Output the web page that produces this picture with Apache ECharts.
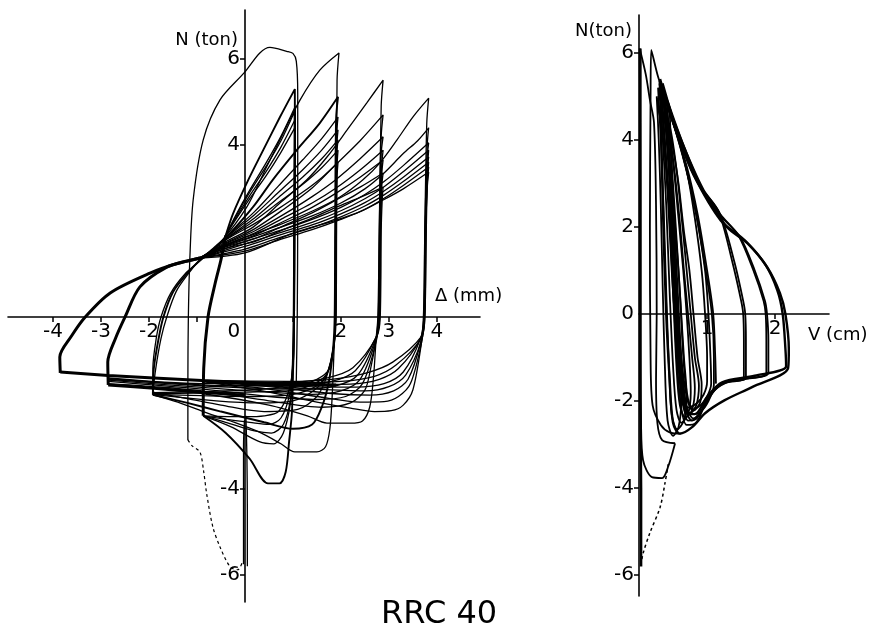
<!DOCTYPE html>
<html>
<head>
<meta charset="utf-8">
<script src="https://cdn.jsdelivr.net/npm/echarts@6/dist/echarts.min.js"></script>
<style>
  html, body { margin: 0; padding: 0; background: #fff; }
  #main { width: 877px; height: 627px; }
</style>
</head>
<body>
<div id="main"></div>
<script>
// ---- left plot: displacement (mm) vs N (ton), points are [delta, N]
var riseG4 = [[-3.85,-1.3],[-3.86,-0.93],[-3.62,-0.45],[-3.33,0],[-2.81,0.56],[-1.98,1.02],[-1.4,1.25],[-0.94,1.37],[-0.6,1.5]];
var riseG3 = [[-2.85,-1.58],[-2.86,-1.05],[-2.7,-0.5],[-2.5,0],[-2.19,0.7],[-1.63,1.16],[-1.2,1.3],[-0.94,1.37]];
var riseG1 = [[-0.87,-2.3],[-0.86,-1.2],[-0.77,0],[-0.62,0.79],[-0.5,1.33],[-0.4,1.9]];
var bandG4 = [[-3.85,-1.28],[-2.85,-1.36],[-1.9,-1.42],[-0.9,-1.48],[0,-1.52],[0.9,-1.56],[1.9,-1.58]];
var bandG3 = [[-2.85,-1.58],[-1.9,-1.66],[-0.9,-1.75],[0,-1.82]];

var g4a = [[-0.94,1.37],[-0.5,1.62],[0,1.85],[0.73,2.15],[1.42,2.47],[1.98,2.79],[2.46,3.19],[2.81,3.58],[3.17,4.12],[3.5,4.65],[3.83,5.09],[3.79,4.5],[3.75,2.0],[3.73,0],[3.68,-0.6],[3.5,-1.7],[3.3,-2.05],[3.05,-2.18],[2.7,-2.2],[2.2,-2.12],[1.5,-1.98],[0.5,-1.75],[-0.9,-1.5]];
var g4b = [[-0.94,1.37],[-0.5,1.6],[0,1.8],[0.7,2.07],[1.4,2.35],[2.0,2.65],[2.5,2.98],[2.9,3.35],[3.3,3.8],[3.6,4.1],[3.83,4.4],[3.8,4.0],[3.76,2.0],[3.74,0],[3.68,-0.6],[3.45,-1.55],[3.2,-1.85],[2.9,-1.97],[2.4,-1.98],[1.5,-1.85],[0.5,-1.68],[-0.9,-1.5]];
var g4c = [[-0.94,1.37],[0,1.75],[0.7,2.0],[1.4,2.27],[2.0,2.55],[2.5,2.85],[2.9,3.15],[3.3,3.52],[3.83,4.05],[3.79,3.6],[3.75,2.0],[3.72,0],[3.66,-0.6],[3.4,-1.45],[3.1,-1.72],[2.6,-1.82],[1.8,-1.78],[0.5,-1.62],[-0.9,-1.49]];
var g4d = [[-0.94,1.37],[0,1.7],[0.7,1.95],[1.4,2.2],[2.0,2.47],[2.5,2.75],[2.9,3.03],[3.3,3.38],[3.83,3.88],[3.8,3.4],[3.77,2.0],[3.75,0],[3.68,-0.55],[3.35,-1.35],[3.0,-1.62],[2.5,-1.72],[1.5,-1.68],[0.5,-1.6],[-0.9,-1.49]];
var g4e = [[-0.94,1.37],[0,1.64],[0.7,1.9],[1.4,2.14],[2.0,2.4],[2.5,2.66],[2.9,2.93],[3.3,3.25],[3.83,3.72],[3.79,3.3],[3.76,2.0],[3.73,0],[3.66,-0.5],[3.3,-1.28],[2.9,-1.55],[2.3,-1.63],[1.3,-1.62],[0.3,-1.56],[-0.9,-1.48]];
var g4f = [[-0.94,1.37],[0,1.58],[0.7,1.84],[1.4,2.08],[2.0,2.33],[2.5,2.58],[2.9,2.84],[3.3,3.15],[3.83,3.6],[3.8,3.2],[3.77,2.0],[3.74,0],[3.66,-0.5],[3.2,-1.2],[2.8,-1.45],[2.2,-1.56],[1.2,-1.57],[0.2,-1.54],[-0.9,-1.48]];
var g4g = [[-0.94,1.37],[0,1.53],[0.7,1.79],[1.4,2.03],[2.0,2.27],[2.5,2.5],[2.9,2.76],[3.3,3.06],[3.83,3.49],[3.8,3.1],[3.77,2.0],[3.74,0],[3.67,-0.5],[3.15,-1.12],[2.7,-1.38],[2.0,-1.5],[1.0,-1.53],[-0.9,-1.48]];
var g4h = [[-0.94,1.37],[0,1.49],[1.0,1.95],[1.92,2.26],[2.4,2.45],[2.88,2.72],[3.3,2.98],[3.83,3.37],[3.8,3.0],[3.78,2.0],[3.75,0],[3.68,-0.45],[3.08,-1.05],[2.54,-1.3],[1.8,-1.45],[0.9,-1.5],[-0.9,-1.48]];

var g3a = [[-0.94,1.37],[-0.4,1.75],[0.17,2.09],[0.73,2.65],[1.29,3.19],[1.71,3.72],[2.13,4.35],[2.54,4.98],[2.88,5.51],[2.84,4.9],[2.8,2.0],[2.78,0],[2.73,-0.6],[2.68,-1.4],[2.6,-2.1],[2.45,-2.42],[2.2,-2.47],[1.71,-2.47],[1.3,-2.3],[0.5,-2.05],[-0.9,-1.78],[-1.9,-1.66],[-2.85,-1.58]];
var g3b = [[-0.94,1.37],[-0.4,1.72],[0.2,2.05],[0.8,2.5],[1.4,3.0],[1.9,3.55],[2.4,4.1],[2.88,4.7],[2.84,4.2],[2.8,2.0],[2.77,0],[2.72,-0.6],[2.62,-1.2],[2.5,-1.7],[2.2,-2.0],[1.6,-2.1],[0.5,-1.95],[-0.9,-1.72],[-1.9,-1.62],[-2.85,-1.55]];
var g3c = [[-0.94,1.37],[-0.4,1.7],[0.2,2.0],[0.8,2.38],[1.4,2.8],[1.9,3.2],[2.4,3.68],[2.88,4.19],[2.84,3.8],[2.81,2.0],[2.79,0],[2.74,-0.55],[2.45,-1.55],[2.1,-1.85],[1.5,-1.92],[0.5,-1.85],[-0.9,-1.68],[-2.85,-1.5]];
var g3d = [[-0.94,1.37],[-0.4,1.68],[0.2,1.95],[0.8,2.3],[1.4,2.65],[1.9,3.0],[2.4,3.42],[2.88,3.88],[2.85,3.5],[2.82,2.0],[2.8,0],[2.74,-0.5],[2.4,-1.45],[2.0,-1.72],[1.4,-1.8],[0.5,-1.75],[-0.9,-1.64],[-2.85,-1.47]];
var g3e = [[-0.94,1.37],[-0.4,1.66],[0.2,1.9],[0.8,2.22],[1.4,2.55],[1.9,2.88],[2.4,3.25],[2.88,3.65],[2.85,3.3],[2.82,2.0],[2.8,0],[2.73,-0.5],[2.35,-1.35],[1.9,-1.6],[1.2,-1.68],[0.3,-1.66],[-0.9,-1.6],[-2.85,-1.45]];
var g3f = [[-0.94,1.37],[-0.4,1.63],[0.2,1.82],[0.8,2.12],[1.4,2.42],[1.9,2.72],[2.4,3.02],[2.88,3.35],[2.85,3.0],[2.83,2.0],[2.81,0],[2.74,-0.45],[2.3,-1.25],[1.8,-1.5],[1.0,-1.6],[0,-1.6],[-0.9,-1.58],[-2.85,-1.44]];
var g3g = [[-0.94,1.37],[-0.4,1.6],[0.2,1.75],[0.8,2.03],[1.4,2.3],[1.9,2.55],[2.4,2.78],[2.88,3.02],[2.86,2.7],[2.84,2.0],[2.82,0],[2.75,-0.45],[2.25,-1.18],[1.7,-1.42],[0.9,-1.53],[0,-1.55],[-0.9,-1.55],[-2.85,-1.42]];

var g2a = [[-1.92,-1.81],[-1.92,-1.2],[-1.85,-0.5],[-1.75,0],[-1.55,0.55],[-1.25,1.0],[-0.94,1.3],[-0.5,1.75],[0.04,2.56],[0.45,3.49],[0.8,4.28],[1.15,5.05],[1.56,5.74],[1.96,6.14],[1.92,5.5],[1.9,2.0],[1.89,0],[1.86,-0.7],[1.82,-1.8],[1.77,-2.6],[1.68,-3.02],[1.5,-3.14],[1.04,-3.14],[0.75,-2.95],[0.3,-2.68],[-0.3,-2.42],[-0.87,-2.2],[-1.4,-1.98],[-1.92,-1.81]];
var g2b = [[-1.92,-1.81],[-1.9,-1.2],[-1.8,-0.5],[-1.7,0],[-1.5,0.58],[-1.2,1.02],[-0.94,1.32],[-0.6,1.65],[-0.31,1.95],[0.17,2.56],[0.58,3.19],[1.08,3.88],[1.56,4.51],[1.94,5.12],[1.9,4.6],[1.88,2.0],[1.87,0],[1.84,-0.7],[1.75,-1.5],[1.6,-2.1],[1.4,-2.5],[1.0,-2.6],[0.4,-2.45],[-0.5,-2.2],[-1.2,-2.0],[-1.92,-1.81]];
var g2c = [[-1.92,-1.75],[-1.86,-1.2],[-1.75,-0.5],[-1.63,0],[-1.43,0.6],[-1.15,1.05],[-0.94,1.33],[-0.6,1.64],[-0.3,1.95],[0.2,2.45],[0.7,3.05],[1.2,3.65],[1.6,4.15],[1.94,4.65],[1.91,4.2],[1.89,2.0],[1.88,0],[1.85,-0.7],[1.7,-1.4],[1.5,-1.85],[1.1,-2.15],[0.4,-2.2],[-0.5,-2.05],[-1.2,-1.9],[-1.92,-1.75]];
var g2d = [[-0.6,1.64],[-0.3,1.93],[0.2,2.38],[0.7,2.9],[1.2,3.42],[1.6,3.88],[1.94,4.35],[1.91,3.9],[1.89,2.0],[1.88,0],[1.85,-0.65],[1.7,-1.35],[1.45,-1.7],[1.0,-1.95],[0.3,-2.0],[-0.6,-1.95],[-1.92,-1.8]];
var g2e = [[-0.6,1.64],[-0.3,1.9],[0.2,2.3],[0.7,2.78],[1.2,3.25],[1.6,3.68],[1.94,4.12],[1.91,3.7],[1.9,2.0],[1.89,0],[1.86,-0.6],[1.72,-1.3],[1.5,-1.6],[1.0,-1.8],[0.2,-1.85],[-0.9,-1.83],[-1.92,-1.8]];
var g2f = [[-0.6,1.64],[-0.3,1.88],[0.2,2.24],[0.7,2.66],[1.2,3.08],[1.6,3.47],[1.94,3.88],[1.92,3.5],[1.9,2.0],[1.89,0],[1.86,-0.6],[1.74,-1.25],[1.5,-1.52],[1.0,-1.7],[0,-1.75],[-1.0,-1.77],[-1.92,-1.78]];
var g2g = [[-0.6,1.64],[-0.3,1.86],[0.2,2.17],[0.7,2.52],[1.2,2.9],[1.6,3.24],[1.94,3.6],[1.92,3.25],[1.91,2.0],[1.9,0],[1.87,-0.55],[1.76,-1.2],[1.5,-1.45],[1.0,-1.62],[0,-1.7],[-1.0,-1.74],[-1.92,-1.76]];

var g1a = [[-0.4,1.9],[-0.25,2.4],[0.04,3.12],[0.38,3.88],[0.73,4.65],[1.04,5.3],[1.04,4.6],[1.03,2.5],[1.02,0],[1.0,-1.2],[0.98,-2.2],[0.92,-2.9],[0.85,-3.6],[0.72,-3.87],[0.48,-3.87],[0.1,-3.3],[-0.4,-2.7],[-0.87,-2.3]];
var g1b = [[-0.4,1.9],[-0.2,2.35],[0.1,2.95],[0.45,3.6],[0.75,4.2],[1.05,4.9],[1.05,4.3],[1.04,2.5],[1.03,0],[1.01,-1.2],[0.95,-2.0],[0.8,-2.7],[0.6,-2.95],[0.3,-2.9],[-0.3,-2.55],[-0.87,-2.3]];
var g1c = [[-0.4,1.9],[-0.2,2.32],[0.1,2.9],[0.45,3.52],[0.75,4.1],[1.03,4.77],[1.03,4.2],[1.02,2.5],[1.01,0],[0.99,-1.1],[0.95,-1.9],[0.8,-2.5],[0.55,-2.7],[0.2,-2.65],[-0.4,-2.45],[-0.87,-2.3]];
var g1d = [[-0.4,1.9],[-0.2,2.28],[0.1,2.82],[0.45,3.4],[0.75,3.95],[1.04,4.58],[1.04,4.0],[1.03,2.5],[1.02,0],[1.0,-1.0],[0.93,-1.8],[0.75,-2.35],[0.5,-2.5],[0.1,-2.45],[-0.4,-2.38],[-0.87,-2.3]];
var g1e = [[-0.4,1.9],[-0.2,2.25],[0.1,2.75],[0.45,3.3],[0.75,3.83],[1.05,4.42],[1.05,3.9],[1.04,2.5],[1.03,0],[1.01,-1.0],[0.92,-1.7],[0.7,-2.2],[0.4,-2.3],[0,-2.32],[-0.87,-2.3]];

var firstCycle = [[-1.19,-2.86],[-1.19,-1.5],[-1.18,0],[-1.15,1.33],[-1.08,2.72],[-0.87,4.12],[-0.52,5.05],[0,5.7],[0.31,6.14],[0.52,6.27],[0.87,6.18],[1.0,6.13],[1.07,5.95],[1.1,5.2],[1.1,2.5],[1.09,0],[1.07,-1.5]];
var failLeft = [[-1.19,-2.86],[-1.1,-3.0],[-0.94,-3.14],[-0.86,-3.6],[-0.8,-4.1],[-0.67,-4.88],[-0.52,-5.35],[-0.31,-5.81],[-0.15,-5.88],[-0.06,-5.72]];
var stemA = [[0.05,-5.8],[0.05,-4.5],[0.04,-3.2],[0.02,-2.3]];
var stemB = [[-0.03,-5.75],[-0.03,-3],[-0.01,-2.4]];

// ---- right plot: V (cm) vs N (ton), points are [V, N]
var rStem = [[0.03,-5.8],[0.03,-4],[0.02,-2],[0.02,0],[0.02,3],[0.02,6.1]];
var rOuter1 = [[0.31,5.4],[0.5,4.4],[0.71,3.54],[0.9,2.92],[1.29,2.0],[1.59,1.63],[1.88,1.08],[2.07,0.48],[2.15,0],[2.2,-0.8],[2.19,-1.24],[1.66,-1.68],[1.26,-1.98],[0.97,-2.28],[0.78,-2.6],[0.6,-2.75],[0.5,-2.5],[0.45,-1.5],[0.4,0],[0.35,2.5],[0.31,5.4]];
var rOuter2 = [[0.38,5.05],[0.6,4.0],[0.8,3.2],[1.2,2.15],[1.55,1.7],[1.85,1.15],[2.03,0.55],[2.11,0],[2.15,-0.8],[2.16,-1.2],[1.7,-1.42],[1.22,-1.57],[1.0,-1.9],[0.82,-2.3],[0.68,-2.25],[0.6,-1.5],[0.54,0],[0.48,2.5],[0.38,5.05]];
var rB1 = [[0.35,5.2],[0.6,4.05],[0.9,2.95],[1.2,2.25],[1.48,1.78],[1.7,1.0],[1.85,0.3],[1.88,0],[1.9,-0.6],[1.9,-1.35],[1.6,-1.48],[1.22,-1.6],[1.0,-1.95],[0.85,-2.4],[0.72,-2.45],[0.64,-1.8],[0.56,0],[0.48,2.5],[0.35,5.2]];
var rB2 = [[0.42,4.9],[0.65,3.9],[0.92,2.9],[1.2,2.28],[1.46,1.8],[1.68,1.0],[1.83,0.3],[1.86,0],[1.87,-0.6],[1.87,-1.36],[1.55,-1.5],[1.2,-1.62],[0.98,-2.05],[0.84,-2.5],[0.7,-2.55],[0.6,-1.9],[0.52,0],[0.46,2.5],[0.42,4.9]];
var rC1 = [[0.38,5.0],[0.6,4.05],[0.9,2.95],[1.19,2.3],[1.4,1.2],[1.53,0.3],[1.56,0],[1.57,-0.6],[1.57,-1.46],[1.3,-1.56],[1.1,-1.75],[0.95,-2.15],[0.8,-2.4],[0.7,-2.15],[0.63,-1.2],[0.57,0.5],[0.5,2.5],[0.38,5.0]];
var rC2 = [[0.45,4.7],[0.7,3.7],[0.95,2.85],[1.17,2.35],[1.37,1.2],[1.5,0.3],[1.53,0],[1.54,-0.6],[1.54,-1.47],[1.28,-1.58],[1.08,-1.8],[0.93,-2.2],[0.78,-2.45],[0.68,-2.2],[0.6,-1.2],[0.54,0.5],[0.5,2.5],[0.45,4.7]];
var rD1 = [[0.35,5.3],[0.55,4.2],[0.7,3.3],[0.85,2.2],[0.97,1.0],[1.02,0],[1.05,-1.0],[1.06,-1.6],[1.0,-1.9],[0.9,-2.1],[0.78,-2.2],[0.7,-1.9],[0.62,-1.0],[0.55,0.5],[0.47,2.5],[0.35,5.3]];
var rD2 = [[0.33,5.2],[0.52,4.3],[0.7,3.3],[0.82,2.2],[0.92,1.0],[0.97,0],[1.0,-1.0],[1.0,-1.55],[0.95,-1.85],[0.85,-2.05],[0.72,-2.15],[0.65,-1.8],[0.58,-1.0],[0.5,0.5],[0.43,2.5],[0.33,5.2]];
var rD3 = [[0.3,5.35],[0.5,4.4],[0.68,3.4],[0.84,2.3],[0.98,1.0],[1.07,0],[1.1,-1.0],[1.1,-1.62],[1.02,-2.0],[0.9,-2.25],[0.76,-2.3],[0.68,-2.0],[0.6,-1.0],[0.52,0.5],[0.45,2.5],[0.3,5.35]];
var rE1 = [[0.3,5.3],[0.42,4.4],[0.5,3.5],[0.58,2.2],[0.65,1.0],[0.7,0],[0.74,-1.0],[0.76,-1.8],[0.72,-2.3],[0.62,-2.5],[0.55,-2.2],[0.5,-1.2],[0.45,0.5],[0.4,2.5],[0.35,4.0],[0.3,5.3]];
var rE2 = [[0.28,5.2],[0.38,4.4],[0.45,3.5],[0.52,2.2],[0.58,1.0],[0.62,0],[0.66,-1.0],[0.7,-1.9],[0.66,-2.45],[0.56,-2.65],[0.48,-2.3],[0.44,-1.2],[0.4,0.5],[0.36,2.5],[0.32,4.0],[0.28,5.2]];
var rE3 = [[0.32,5.1],[0.44,4.2],[0.52,3.3],[0.6,2.1],[0.66,1.0],[0.72,0],[0.78,-1.0],[0.82,-1.7],[0.78,-2.2],[0.68,-2.38],[0.6,-2.1],[0.55,-1.2],[0.5,0.5],[0.44,2.5],[0.38,4.0],[0.32,5.1]];
var rE4 = [[0.26,5.0],[0.34,4.2],[0.4,3.3],[0.46,2.1],[0.5,1.0],[0.54,0],[0.58,-1.0],[0.62,-2.0],[0.58,-2.6],[0.5,-2.8],[0.42,-2.45],[0.38,-1.2],[0.35,0.5],[0.32,2.5],[0.29,4.0],[0.26,5.0]];
var rE5 = [[0.36,4.9],[0.48,4.1],[0.56,3.2],[0.64,2.0],[0.7,1.0],[0.76,0],[0.82,-1.0],[0.88,-1.65],[0.84,-2.1],[0.74,-2.3],[0.66,-2.0],[0.6,-1.2],[0.55,0.5],[0.48,2.5],[0.42,4.0],[0.36,4.9]];
var rE6 = [[0.4,4.6],[0.5,3.8],[0.58,3.0],[0.66,1.9],[0.74,1.0],[0.8,0],[0.86,-1.0],[0.92,-1.62],[0.9,-2.02],[0.8,-2.22],[0.72,-1.95],[0.66,-1.2],[0.6,0.5],[0.52,2.5],[0.46,3.8],[0.4,4.6]];
var rF1 = [[0.53,-2.97],[0.43,-3.5],[0.34,-3.77],[0.19,-3.75],[0.06,-3.36],[0.03,-2.5],[0.02,0],[0.02,3],[0.01,6.1],[0.1,5.5],[0.16,4.92],[0.22,4.4],[0.25,2.5],[0.26,0],[0.25,-1.5],[0.27,-2.5],[0.34,-2.9],[0.53,-2.97]];
var rF2 = [[0.62,-2.75],[0.45,-2.72],[0.32,-2.55],[0.2,-2.1],[0.17,-1],[0.16,2],[0.17,5],[0.18,6.07],[0.28,5.45],[0.5,4.4],[0.7,3.4],[0.86,2.3],[1.0,1.0],[1.09,0],[1.12,-1.0],[1.13,-1.6]];
var failRight = [[0.43,-3.45],[0.38,-3.9],[0.31,-4.44],[0.16,-5.03],[0.06,-5.5],[0.03,-5.75]];

// tick positions and labels
var leftXTicks = [-4,-3,-2,-1,1,2,3,4];
var leftXLabels = [-4,-3,-2,0,2,3,4];
var leftYTicks = [-6,-4,4,6];
var rightXTicks = [1,2];
var rightYTicks = [-6,-4,-2,2,4,6];
var rightYLabels = [-6,-4,-2,0,2,4,6];

var FONT = "'DejaVu Sans', sans-serif";

function curve(data, grid, width, dashed) {
    return {
        type: 'line',
        xAxisIndex: grid,
        yAxisIndex: grid,
        data: data,
        symbol: 'none',
        smooth: 0.3,
        silent: true,
        animation: false,
        lineStyle: { color: '#000', width: width, type: dashed ? [3, 3] : 'solid' }
    };
}

function axisBase(min, max, offset) {
    return {
        type: 'value', min: min, max: max, offset: offset,
        splitLine: { show: false },
        axisLine: { onZero: false, lineStyle: { color: '#000', width: 1.6 } },
        axisTick: { show: true, length: 5, lineStyle: { color: '#000', width: 1.5 } },
        axisLabel: { color: '#000', fontSize: 20, fontFamily: FONT, margin: 5 },
        nameTextStyle: { color: '#000', fontSize: 18, fontFamily: FONT }
    };
}

var series = [];
[riseG4, riseG3, riseG1, bandG4, bandG3].forEach(function (d) { series.push(curve(d, 0, 3)); });
[g4a, g4b, g4c, g4d, g4e, g4f, g4g, g4h, g3a, g3b, g3c, g3d, g3e, g3f, g3g,
 g2a, g2c, g2d, g2e, g2f, g2g, g1b, g1c, g1d, g1e, firstCycle, stemA, stemB].forEach(function (d) {
    series.push(curve(d, 0, 1.3));
});
[g2b, g1a].forEach(function (d) { series.push(curve(d, 0, 1.9)); });
series.push(curve(failLeft, 0, 1.2, true));

series.push(curve(rStem, 1, 2.6));
[rOuter1, rOuter2].forEach(function (d) { series.push(curve(d, 1, 2.4)); });
[rB1, rB2, rC1, rC2, rD1, rD2, rD3, rE1, rE2, rE3, rE4, rE5, rE6, rF1, rF2].forEach(function (d) {
    series.push(curve(d, 1, 1.8));
});
series.push(curve(failRight, 1, 1.5, true));

// axes sit on the zero lines: shift them inward with a negative offset
var xL = axisBase(-4.94, 4.9, -285);
xL.position = 'bottom';
xL.name = 'Δ (mm)';
xL.nameLocation = 'end';
xL.nameGap = -45;
xL.nameTextStyle.verticalAlign = 'bottom';
xL.nameTextStyle.align = 'left';
xL.nameTextStyle.padding = [0, 0, 12, 0];
xL.axisTick.customValues = leftXTicks;
xL.axisLabel.customValues = leftXLabels;
xL.axisLabel.rich = { z: { fontSize: 20, fontFamily: FONT, color: '#000', padding: [0, 22, 0, 0] } };
xL.axisLabel.formatter = function (v) { return v === 0 ? '{z|0}' : String(v); };

var yL = axisBase(-6.63, 7.14, -237);
yL.position = 'left';
yL.name = 'N (ton)';
yL.nameLocation = 'end';
yL.nameGap = -22;
yL.nameTextStyle.verticalAlign = 'top';
yL.nameTextStyle.align = 'right';
yL.nameTextStyle.padding = [0, 7, 0, 0];
yL.axisTick.customValues = leftYTicks;
yL.axisLabel.customValues = leftYTicks;

var xR = axisBase(0, 2.79, -282);
xR.position = 'bottom';
xR.name = 'V (cm)';
xR.nameLocation = 'end';
xR.nameGap = -21;
xR.nameTextStyle.verticalAlign = 'top';
xR.nameTextStyle.align = 'left';
xR.nameTextStyle.padding = [12, 0, 0, 0];
xR.axisTick.customValues = rightXTicks;
xR.axisLabel.customValues = rightXTicks;

var yR = axisBase(-6.48, 6.87, 0);
yR.position = 'left';
yR.name = 'N(ton)';
yR.nameLocation = 'end';
yR.nameGap = -7;
yR.nameTextStyle.verticalAlign = 'top';
yR.nameTextStyle.align = 'right';
yR.nameTextStyle.padding = [0, 7, 0, 0];
yR.axisTick.customValues = rightYTicks;
yR.axisLabel.customValues = rightYLabels;
xL.gridIndex = 0; yL.gridIndex = 0; xR.gridIndex = 1; yR.gridIndex = 1;

var chart = echarts.init(document.getElementById('main'), null, { renderer: 'canvas' });
chart.setOption({
    backgroundColor: '#fff',
    animation: false,
    title: {
        text: 'RRC 40',
        left: 376,
        top: 594,
        textStyle: { color: '#000', fontSize: 32, fontWeight: 'normal', fontFamily: FONT }
    },
    grid: [
        { left: 8, top: 10, width: 472, height: 592, containLabel: false },
        { left: 639, top: 15, width: 190, height: 581, containLabel: false }
    ],
    xAxis: [xL, xR],
    yAxis: [yL, yR],
    series: series
});
</script>
</body>
</html>
